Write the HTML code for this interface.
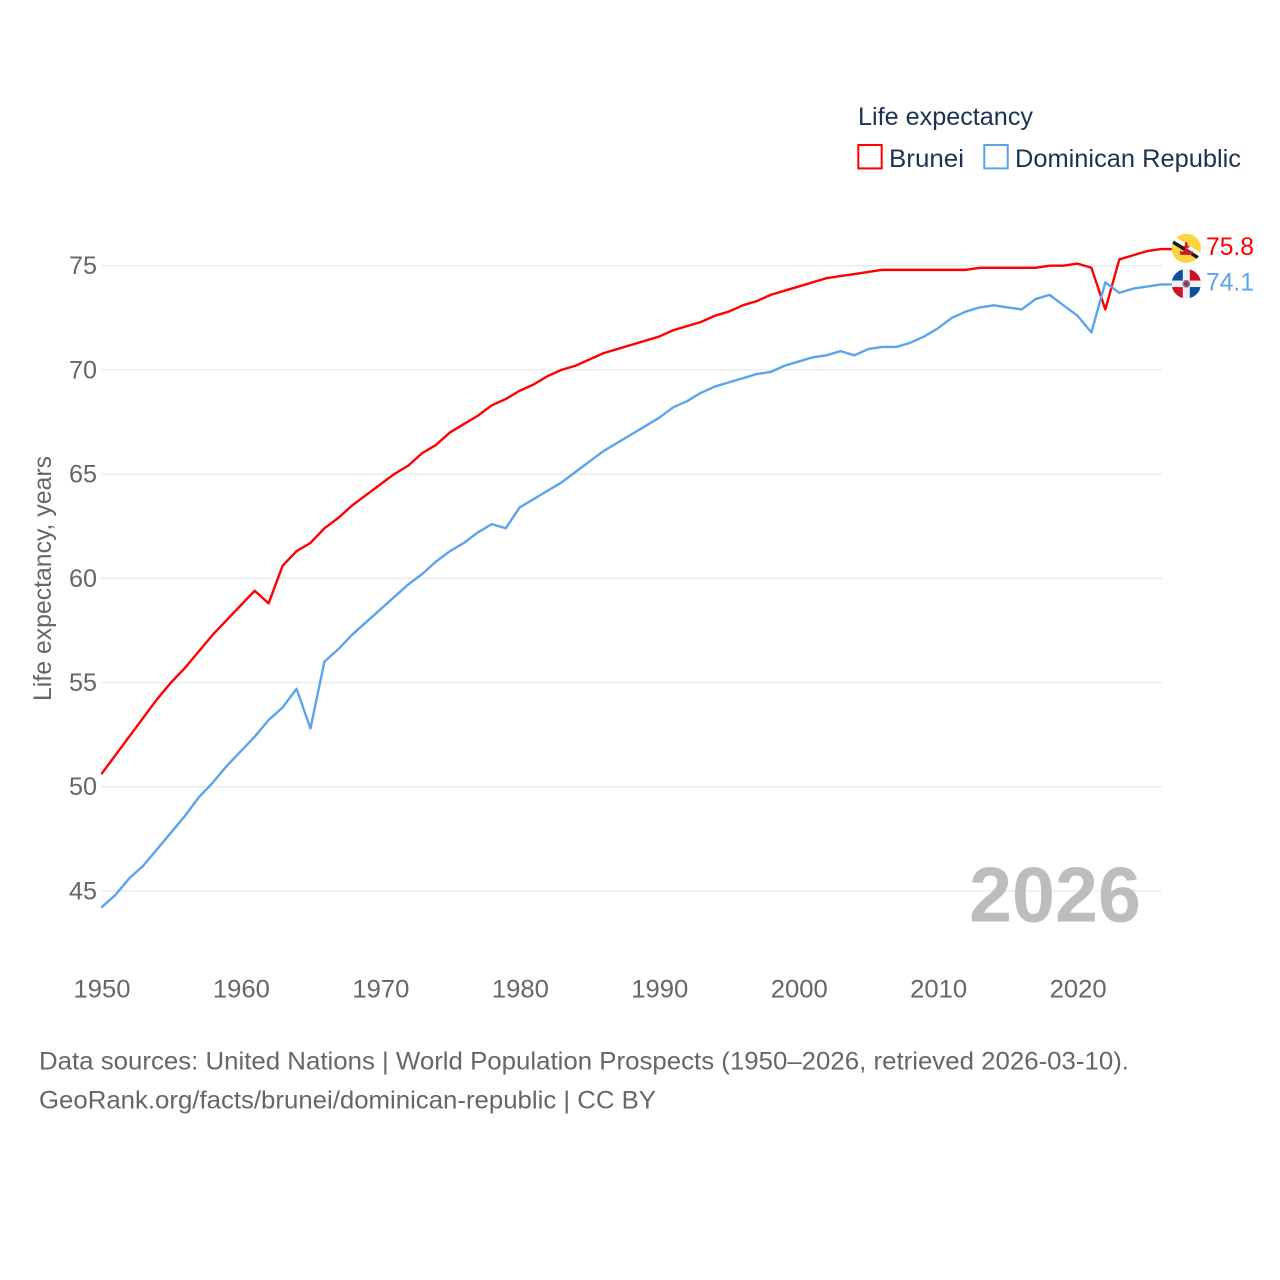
<!DOCTYPE html>
<html lang="en">
<head>
<meta charset="utf-8">
<title>Life expectancy: Brunei and Dominican Republic</title>
<style>
html,body{margin:0;padding:0;background:#fff;width:1280px;height:1280px;overflow:hidden}
svg{display:block}
text{font-family:"Liberation Sans",sans-serif}
</style>
</head>
<body>
<svg id="chart" xmlns="http://www.w3.org/2000/svg" width="1280" height="1280" viewBox="0 0 1280 1280">
  <defs>
    <clipPath id="flag-clip-a"><circle cx="0" cy="0" r="14.7"/></clipPath>
  </defs>
  <g id="grid"></g>
  <g id="yticks"></g>
  <g id="xticks"></g>
  <text transform="translate(51,701) rotate(-90)" font-size="25" fill="#666" textLength="245" lengthAdjust="spacingAndGlyphs">Life expectancy, years</text>
  <text x="969" y="921.5" font-size="78" font-weight="700" fill="#bdbdbd" textLength="172" lengthAdjust="spacingAndGlyphs">2026</text>
  <g id="series"></g>
  <g id="flag-brunei" clip-path="url(#flag-clip-a)">
    <circle r="14.7" fill="#fbd440"/>
    <polygon points="-16,-14.5 16,5.5 16,10 -16,-10" fill="#fff"/>
    <polygon points="-16,-10 16,10 16,14 -16,-6" fill="#141414"/>
    <path d="M-6.5,2 Q-3,5 -1.5,1 L1.5,1 Q3,5 6.5,2 L6,6.5 L-6,6.5 Z" fill="#d3172b"/>
    <rect x="-1.3" y="-6" width="2.6" height="9" fill="#d3172b"/>
    <rect x="-3.2" y="-2.6" width="6.4" height="1.8" fill="#d3172b"/>
  </g>
  <g id="flag-dr" clip-path="url(#flag-clip-a)">
    <circle r="14.7" fill="#f0f0f0"/>
    <rect x="-15" y="-15" width="11.5" height="11.8" fill="#0b4ea2"/>
    <rect x="3.5" y="3.3" width="11.5" height="11.7" fill="#0b4ea2"/>
    <rect x="3.5" y="-15" width="11.5" height="11.8" fill="#ce1126"/>
    <rect x="-15" y="3.3" width="11.5" height="11.7" fill="#ce1126"/>
    <circle r="4" fill="#6f8fb4"/>
    <circle r="2.6" fill="#b82a3c"/>
  </g>
  <g id="end-labels"></g>
  <g>
    <text x="858" y="125" font-size="25" fill="#1a3355" textLength="175" lengthAdjust="spacingAndGlyphs">Life expectancy</text>
    <g>
      <rect x="858.3" y="145" width="23.4" height="23.4" fill="none" stroke="#ff0000" stroke-width="2"/>
      <text x="889" y="167" font-size="25" fill="#1a3355" textLength="75" lengthAdjust="spacingAndGlyphs">Brunei</text>
    </g>
    <g>
      <rect x="984.3" y="145" width="23.4" height="23.4" fill="none" stroke="#5ba4ec" stroke-width="2"/>
      <text x="1015" y="167" font-size="25" fill="#1a3355" textLength="226" lengthAdjust="spacingAndGlyphs">Dominican Republic</text>
    </g>
  </g>
  <text x="39" y="1069.6" font-size="25" fill="#666" textLength="1090" lengthAdjust="spacingAndGlyphs">Data sources: United Nations | World Population Prospects (1950–2026, retrieved 2026-03-10).</text>
  <text x="39" y="1108.5" font-size="25" fill="#666" textLength="617" lengthAdjust="spacingAndGlyphs">GeoRank.org/facts/brunei/dominican-republic | CC BY</text>
</svg>
<script>
const startYear = 1950;
const bruneiValues = [
  50.6,51.5,52.4,53.3,54.2,55.0,55.7,56.5,57.3,58.0,
  58.7,59.4,58.8,60.6,61.3,61.7,62.4,62.9,63.5,64.0,
  64.5,65.0,65.4,66.0,66.4,67.0,67.4,67.8,68.3,68.6,
  69.0,69.3,69.7,70.0,70.2,70.5,70.8,71.0,71.2,71.4,
  71.6,71.9,72.1,72.3,72.6,72.8,73.1,73.3,73.6,73.8,
  74.0,74.2,74.4,74.5,74.6,74.7,74.8,74.8,74.8,74.8,
  74.8,74.8,74.8,74.9,74.9,74.9,74.9,74.9,75.0,75.0,
  75.1,74.9,72.9,75.3,75.5,75.7,75.8
];
const dominicanValues = [
  44.2,44.8,45.6,46.2,47.0,47.8,48.6,49.5,50.2,51.0,
  51.7,52.4,53.2,53.8,54.7,52.8,56.0,56.6,57.3,57.9,
  58.5,59.1,59.7,60.2,60.8,61.3,61.7,62.2,62.6,62.4,
  63.4,63.8,64.2,64.6,65.1,65.6,66.1,66.5,66.9,67.3,
  67.7,68.2,68.5,68.9,69.2,69.4,69.6,69.8,69.9,70.2,
  70.4,70.6,70.7,70.9,70.7,71.0,71.1,71.1,71.3,71.6,
  72.0,72.5,72.8,73.0,73.1,73.0,72.9,73.4,73.6,73.1,
  72.6,71.8,74.2,73.7,73.9,74.0,74.1
];
const yTickValues = [45,50,55,60,65,70,75];
const xTickValues = [1950,1960,1970,1980,1990,2000,2010,2020];

const NS = 'http://www.w3.org/2000/svg';
const xScale = function (year) { return 101.3 + (year - 1950) * 13.945; };
const yScale = function (v) { return 265.7 + (75 - v) * 20.84; };
const gridRight = 1162;
const flagX = 1186.3;

function make(tag, parent) {
  const el = document.createElementNS(NS, tag);
  parent.appendChild(el);
  return el;
}

const grid = document.getElementById('grid');
const yticks = document.getElementById('yticks');
const xticks = document.getElementById('xticks');
const series = document.getElementById('series');
const endLabels = document.getElementById('end-labels');

yTickValues.forEach(function (v) {
  const line = make('line', grid);
  
  
  line.setAttribute('x1', 101.5);
  line.setAttribute('x2', gridRight);
  line.setAttribute('y1', yScale(v));
  line.setAttribute('y2', yScale(v));
  line.setAttribute('stroke', '#e8e8e8');
  line.setAttribute('stroke-width', '1.3');

  const label = make('text', yticks);
  
  
  label.setAttribute('x', 69);
  label.setAttribute('y', yScale(v) + 8.5);
  label.setAttribute('font-size', '25');
  label.setAttribute('fill', '#666');
  label.setAttribute('textLength', '28');
  label.setAttribute('lengthAdjust', 'spacingAndGlyphs');
  label.textContent = v;
});

xTickValues.forEach(function (y) {
  const label = make('text', xticks);
  
  
  label.setAttribute('x', xScale(y) - 27.8);
  label.setAttribute('y', 997.7);
  label.setAttribute('font-size', '25');
  label.setAttribute('fill', '#666');
  label.setAttribute('textLength', '57');
  label.setAttribute('lengthAdjust', 'spacingAndGlyphs');
  label.textContent = y;
});

function drawSeries(values, color, flagId) {
  let pts = values.map(function (v, i) {
    return xScale(startYear + i).toFixed(2) + ',' + yScale(v).toFixed(2);
  });
  const last = values[values.length - 1];
  pts.push(flagX + ',' + yScale(last).toFixed(2));
  const line = make('polyline', series);
  
  
  line.setAttribute('points', pts.join(' '));
  line.setAttribute('fill', 'none');
  line.setAttribute('stroke', color);
  line.setAttribute('stroke-width', '2.4');
  line.setAttribute('stroke-linejoin', 'round');

  const flag = document.getElementById('flag-' + flagId);
  flag.setAttribute('transform', 'translate(' + flagX + ',' + (yScale(last) - 0.7).toFixed(2) + ')');

  const label = make('text', endLabels);
  
  
  label.setAttribute('x', 1206);
  label.setAttribute('y', (yScale(last) + 6).toFixed(2));
  label.setAttribute('font-size', '25');
  label.setAttribute('fill', color);
  label.setAttribute('textLength', '48');
  label.setAttribute('lengthAdjust', 'spacingAndGlyphs');
  label.textContent = last.toFixed(1);
}

drawSeries(bruneiValues, '#ff0000', 'brunei');
drawSeries(dominicanValues, '#5ba4ec', 'dr');
</script>
</body>
</html>
